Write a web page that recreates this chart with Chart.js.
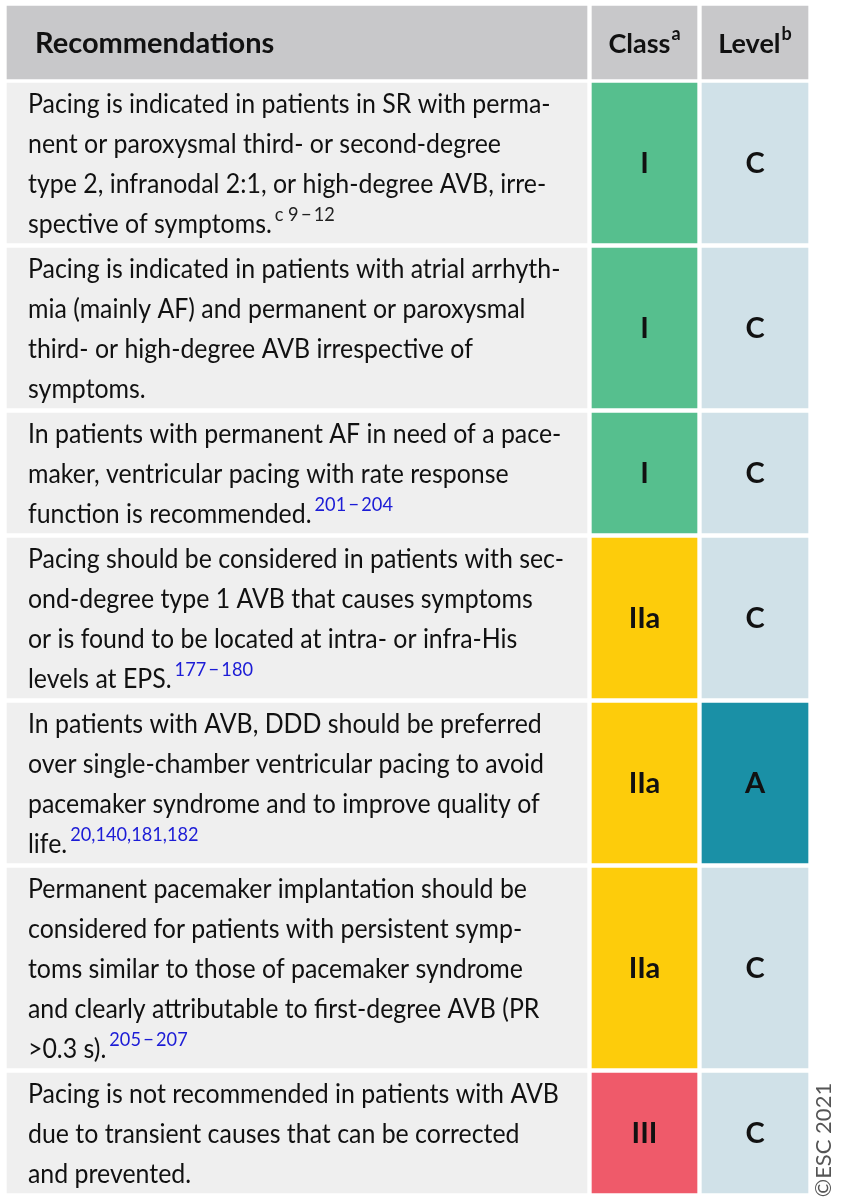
<!DOCTYPE html>
<html>
<head>
<meta charset="utf-8">
<script src="https://cdn.jsdelivr.net/npm/chart.js@4.4.1/dist/chart.umd.min.js"></script>
<style>
  html, body { margin: 0; padding: 0; background: #fff; }
  #wrap { width: 843px; height: 1200px; position: relative; }
</style>
</head>
<body>
<div id="wrap"><canvas id="recTable"></canvas></div>
<script>
// ------------------------------
// Table content
// ------------------------------
const headers = ['Recommendations', 'Class', 'Level'];
const headerSups = ['', 'a', 'b'];

const recLines = [
  ['Pacing is indicated in patients in SR with perma-',
   'nent or paroxysmal third- or second-degree',
   'type 2, infranodal 2:1, or high-degree AVB, irre-',
   'spective of symptoms.'],
  ['Pacing is indicated in patients with atrial arrhyth-',
   'mia (mainly AF) and permanent or paroxysmal',
   'third- or high-degree AVB irrespective of',
   'symptoms.'],
  ['In patients with permanent AF in need of a pace-',
   'maker, ventricular pacing with rate response',
   'function is recommended.'],
  ['Pacing should be considered in patients with sec-',
   'ond-degree type 1 AVB that causes symptoms',
   'or is found to be located at intra- or infra-His',
   'levels at EPS.'],
  ['In patients with AVB, DDD should be preferred',
   'over single-chamber ventricular pacing to avoid',
   'pacemaker syndrome and to improve quality of',
   'life.'],
  ['Permanent pacemaker implantation should be',
   'considered for patients with persistent symp-',
   'toms similar to those of pacemaker syndrome',
   'and clearly attributable to first-degree AVB (PR',
   '>0.3 s).'],
  ['Pacing is not recommended in patients with AVB',
   'due to transient causes that can be corrected',
   'and prevented.']
];
const recRefs = ['c 9\u2009\u2212\u200912', '', '201\u2009\u2212\u2009204', '177\u2009\u2212\u2009180',
  '20,140,181,182', '205\u2009\u2212\u2009207', ''];
const refIsLink = [false, false, true, true, true, true, false];

const classes = ['I', 'I', 'I', 'IIa', 'IIa', 'IIa', 'III'];
const levels = ['C', 'C', 'C', 'C', 'A', 'C', 'C'];

// ------------------------------
// Layout + colours
// ------------------------------
const W = 843, H = 1200;
const TOP = 6, HEADER_H = 73, HEADER_GAP = 4, ROW_GAP = 5, LINE_H = 40;
const cols = [{ x0: 7, x1: 587 }, { x0: 592, x1: 697 }, { x0: 702, x1: 808 }];
const FONT = 'Lato, "Noto Sans", sans-serif';

const headerColor = '#c8c8ca';
const recColor = '#efefef';
const classColors = { I: '#56bf8e', IIa: '#fdcc0b', III: '#ef5a6a' };
const levelColors = { A: '#1a90a6', B: '#8fc3d0', C: '#d0e1e8' };

// row extents follow from the number of text lines
const rowBounds = [[TOP, TOP + HEADER_H]];
let cursor = TOP + HEADER_H + HEADER_GAP;
recLines.forEach(lines => {
  const h = lines.length * LINE_H;
  rowBounds.push([cursor, cursor + h]);
  cursor += h + ROW_GAP;
});

function columnData(c) {
  const mid = (cols[c].x0 + cols[c].x1) / 2;
  return rowBounds.map(b => ({ x: mid, y: b }));
}

const colFills = [
  [headerColor, ...recLines.map(() => recColor)],
  [headerColor, ...classes.map(k => classColors[k])],
  [headerColor, ...levels.map(k => levelColors[k])]
];

// ------------------------------
// Text drawn on top of the cells
// ------------------------------
const tableText = {
  id: 'tableText',
  afterDatasetsDraw(chart) {
    const { ctx, scales: { x, y } } = chart;
    ctx.save();
    ctx.fillStyle = '#111';
    ctx.textBaseline = 'alphabetic';

    // squeeze body text a little to get closer to the narrow original face
    ctx.font = '26px ' + FONT;
    let widest = 0;
    recLines.forEach(ls => ls.forEach(l => { widest = Math.max(widest, ctx.measureText(l).width); }));
    const sx = Math.min(1, 536 / widest);

    // header row
    const hMid = (y.getPixelForValue(rowBounds[0][0]) + y.getPixelForValue(rowBounds[0][1])) / 2;
    ctx.font = 'bold 29px ' + FONT;
    ctx.textAlign = 'left';
    ctx.fillText(headers[0], x.getPixelForValue(cols[0].x0) + 28, hMid + 10);
    for (let c = 1; c < 3; c++) {
      ctx.font = 'bold 27px ' + FONT;
      const w1 = ctx.measureText(headers[c]).width;
      ctx.font = 'bold 18px ' + FONT;
      const w2 = ctx.measureText(headerSups[c]).width;
      const cx = x.getPixelForValue((cols[c].x0 + cols[c].x1) / 2);
      const left = cx - (w1 + w2 + 1) / 2;
      ctx.font = 'bold 27px ' + FONT;
      ctx.fillText(headers[c], left, hMid + 10);
      ctx.font = 'bold 18px ' + FONT;
      ctx.fillText(headerSups[c], left + w1 + 1, hMid - 3);
    }

    // body rows
    recLines.forEach((lines, r) => {
      const top = y.getPixelForValue(rowBounds[r + 1][0]);
      const bot = y.getPixelForValue(rowBounds[r + 1][1]);
      const tx = x.getPixelForValue(cols[0].x0) + 21;
      ctx.textAlign = 'left';
      lines.forEach((line, i) => {
        const by = top + 30 + i * LINE_H;
        ctx.font = '26px ' + FONT;
        ctx.fillStyle = '#111';
        ctx.save();
        ctx.translate(tx, by);
        ctx.scale(sx, 1);
        ctx.fillText(line, 0, 0);
        const w = ctx.measureText(line).width;
        ctx.restore();
        if (i === lines.length - 1 && recRefs[r]) {
          ctx.font = '19px ' + FONT;
          ctx.fillStyle = refIsLink[r] ? '#1c1cd6' : '#222';
          ctx.save();
          ctx.translate(tx + w * sx + 3, by - 12);
          ctx.scale(sx, 1);
          ctx.fillText(recRefs[r], 0, 0);
          ctx.restore();
        }
      });

      const mid = (top + bot) / 2;
      ctx.fillStyle = '#111';
      ctx.textAlign = 'center';
      ctx.font = 'bold 29px ' + FONT;
      ctx.fillText(classes[r], x.getPixelForValue((cols[1].x0 + cols[1].x1) / 2), mid + 10);
      ctx.fillText(levels[r], x.getPixelForValue((cols[2].x0 + cols[2].x1) / 2), mid + 10);
    });

    // copyright mark along the right edge
    ctx.save();
    ctx.translate(824, 1140);
    ctx.rotate(-Math.PI / 2);
    ctx.textAlign = 'center';
    ctx.textBaseline = 'middle';
    ctx.fillStyle = '#555';
    ctx.font = '22px ' + FONT;
    ctx.fillText('\u00A9ESC 2021', 0, 0);
    ctx.restore();

    ctx.restore();
  }
};

// ------------------------------
// Cells as floating bars
// ------------------------------
new Chart(document.getElementById('recTable'), {
  type: 'bar',
  data: {
    datasets: headers.map((h, c) => ({
      label: h,
      data: columnData(c),
      backgroundColor: colFills[c],
      borderWidth: 0,
      borderSkipped: false,
      barThickness: cols[c].x1 - cols[c].x0,
      grouped: false
    }))
  },
  options: {
    responsive: true,
    maintainAspectRatio: false,
    animation: false,
    layout: { padding: 0 },
    scales: {
      x: { type: 'linear', min: 0, max: W, offset: false, display: false },
      y: { type: 'linear', min: 0, max: H, reverse: true, display: false }
    },
    plugins: { legend: { display: false }, tooltip: { enabled: false } }
  },
  plugins: [tableText]
});
</script>
</body>
</html>
